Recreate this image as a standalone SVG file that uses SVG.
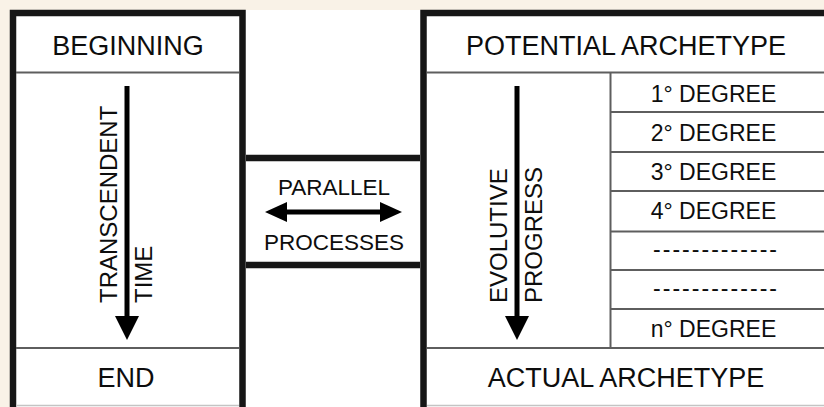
<svg xmlns="http://www.w3.org/2000/svg" width="824" height="407" viewBox="0 0 824 407">
<defs>
<style>
.t{font-family:"Liberation Sans",Arial,Helvetica,sans-serif;fill:#0d0d0d}
.h{font-size:27px;text-anchor:middle}
.d{font-size:23px;text-anchor:middle}
.p{font-size:22.5px;text-anchor:middle}
.v{font-size:24px;text-anchor:start}
.thick{stroke:#161616;fill:none;stroke-width:6.5}
.thin{stroke:#5e5e5e;fill:none;stroke-width:2}
.faint{stroke:#c4c4c4;fill:none;stroke-width:1.5}
.shaft{stroke:#000;stroke-width:5;fill:none}
</style>
<marker id="headV" markerUnits="userSpaceOnUse" markerWidth="24" markerHeight="24" refX="0" refY="11.5" orient="auto" viewBox="0 0 23 23">
<path d="M0,0 L23,11.5 L0,23 z" fill="#000"/>
</marker>
<marker id="headH" markerUnits="userSpaceOnUse" markerWidth="22" markerHeight="20" refX="0" refY="10" orient="auto-start-reverse" viewBox="0 0 22 20">
<path d="M0,0 L22,10 L0,20 z" fill="#000"/>
</marker>
</defs>
<rect x="0" y="0" width="824" height="407" fill="#ffffff"/>
<rect x="0" y="0" width="824" height="10" fill="#f9f2e7"/>
<rect x="0" y="0" width="10" height="407" fill="#f9f2e7"/>

<g id="left-box">
<path class="thick" d="M13,407 V13 H242.5 V407"/>
<line class="thin" x1="16" y1="72.5" x2="239" y2="72.5"/>
<line class="thin" x1="16" y1="348" x2="239" y2="348"/>
<line class="faint" x1="16" y1="405.5" x2="239" y2="405.5"/>
<text class="t h" x="128" y="55">BEGINNING</text>
<text class="t h" x="126" y="387">END</text>
<text class="t v" transform="translate(117,303) rotate(-90)">TRANSCENDENT</text>
<text class="t v" transform="translate(152,303) rotate(-90)">TIME</text>
</g>

<g id="parallel-box">
<line class="thick" x1="246" y1="158" x2="420" y2="158" stroke-width="7"/>
<line class="thick" x1="246" y1="265" x2="420" y2="265"/>
<text class="t p" x="334" y="195">PARALLEL</text>
<text class="t p" x="334" y="250">PROCESSES</text>
</g>

<g id="right-box">
<path class="thick" d="M423.5,407 V13 H824"/>
<line class="thin" x1="427" y1="72.5" x2="824" y2="72.5"/>
<line class="thin" x1="427" y1="348" x2="824" y2="348"/>
<line class="faint" x1="427" y1="405.5" x2="824" y2="405.5"/>
<line class="thin" x1="610.5" y1="73" x2="610.5" y2="348"/>
<text class="t h" x="626" y="55">POTENTIAL ARCHETYPE</text>
<text class="t h" x="626" y="387">ACTUAL ARCHETYPE</text>
<text class="t v" transform="translate(507,303) rotate(-90)">EVOLUTIVE</text>
<text class="t v" transform="translate(542,303) rotate(-90)">PROGRESS</text>
</g>

<g id="degrees">
<line class="thin" x1="611" y1="112" x2="824" y2="112"/>
<line class="thin" x1="611" y1="152" x2="824" y2="152"/>
<line class="thin" x1="611" y1="191" x2="824" y2="191"/>
<line class="thin" x1="611" y1="231.5" x2="824" y2="231.5"/>
<line class="thin" x1="611" y1="270" x2="824" y2="270"/>
<line class="thin" x1="611" y1="309" x2="824" y2="309"/>
<text class="t d" x="713.5" y="102">1° DEGREE</text>
<text class="t d" x="713.5" y="141">2° DEGREE</text>
<text class="t d" x="713.5" y="180">3° DEGREE</text>
<text class="t d" x="713.5" y="219">4° DEGREE</text>
<text class="t d" x="715" y="257" textLength="124" lengthAdjust="spacing">-------------</text>
<text class="t d" x="715" y="296" textLength="124" lengthAdjust="spacing">-------------</text>
<text class="t d" x="713.5" y="337">n° DEGREE</text>
</g>

<g id="connectors">
<line class="shaft" x1="127" y1="86" x2="127" y2="316" marker-end="url(#headV)"/>
<line class="shaft" x1="517" y1="86" x2="517" y2="316" marker-end="url(#headV)"/>
<line class="shaft" x1="287" y1="212" x2="380" y2="212" stroke-width="4.5" marker-start="url(#headH)" marker-end="url(#headH)"/>
</g>
</svg>
